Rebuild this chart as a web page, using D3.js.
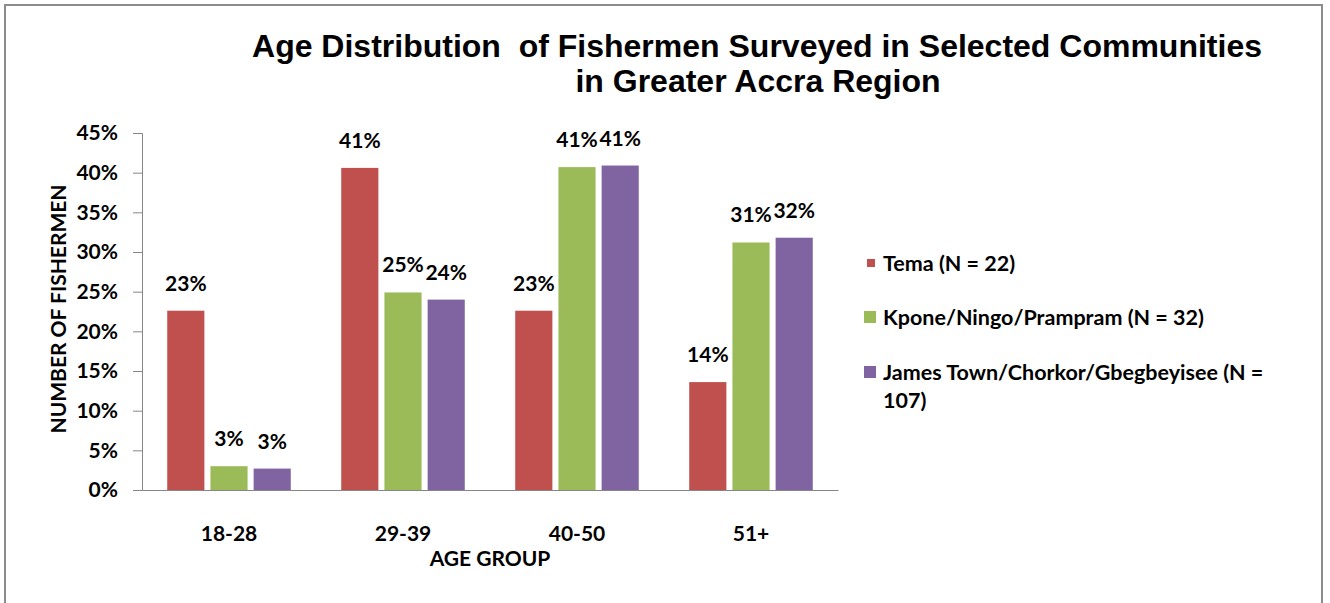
<!DOCTYPE html>
<html>
<head>
<meta charset="utf-8">
<script src="https://cdn.jsdelivr.net/npm/d3@7"></script>
<style>
  body { margin: 0; background: #fff; }
</style>
</head>
<body>
<div id="chart"></div>
<script>
const ageGroups = ["18-28", "29-39", "40-50", "51+"];
const seriesNames = ["Tema (N = 22)", "Kpone/Ningo/Prampram (N = 32)", "James Town/Chorkor/Gbegbeyisee (N = 107)"];
const tema = [22.6, 40.6, 22.6, 13.6];
const kpone = [3.0, 24.9, 40.7, 31.2];
const jamesTown = [2.7, 24.0, 40.9, 31.8];
const seriesColors = ["#C0504D", "#9BBB59", "#8064A2"];
const yTicks = [0, 5, 10, 15, 20, 25, 30, 35, 40, 45];

const width = 1330, height = 603;
const margin = {left: 142, right: 492, top: 133, bottom: 113};
const labelFont = "Lato, 'Open Sans', sans-serif";
const fs = 21;

const allSeries = [tema, kpone, jamesTown];

const svg = d3.select("#chart").append("svg")
    .attr("width", width)
    .attr("height", height);

// outer frame
svg.append("rect")
    .attr("x", 5).attr("y", 5)
    .attr("width", 1317).attr("height", 620)
    .attr("fill", "#fff")
    .attr("stroke", "#8c8c8c")
    .attr("stroke-width", 2);

const x0 = d3.scaleBand()
    .domain(ageGroups)
    .range([margin.left, width - margin.right])
    .paddingInner(0.29)
    .paddingOuter(0.145);

const x1 = d3.scaleBand()
    .domain(d3.range(seriesNames.length))
    .range([0, x0.bandwidth()])
    .paddingInner(0.14);

const y = d3.scaleLinear()
    .domain([0, 45])
    .range([height - margin.bottom, margin.top]);

// title
const title = svg.append("text")
    .attr("text-anchor", "middle")
    .style("font-family", "'Liberation Sans', Arial, sans-serif")
    .style("font-weight", "bold")
    .style("font-size", "32px")
    .style("white-space", "pre")
    .attr("fill", "#000");
title.append("tspan").attr("x", 757).attr("y", 57)
    .text("Age Distribution  of Fishermen Surveyed in Selected Communities");
title.append("tspan").attr("x", 758).attr("y", 92)
    .text("in Greater Accra Region");

// y axis
const yAxis = svg.append("g")
    .attr("transform", `translate(${margin.left},0)`)
    .call(d3.axisLeft(y).tickValues(yTicks).tickFormat(d => d + "%").tickSizeOuter(0).tickSize(9).tickPadding(15));
yAxis.select(".domain").attr("stroke", "#868686");
yAxis.selectAll(".tick line").attr("stroke", "#868686");
yAxis.selectAll("text")
    .style("font-family", labelFont)
    .style("font-weight", "bold")
    .style("font-size", fs + "px")
    .attr("fill", "#000");

// x axis
const xAxis = svg.append("g")
    .attr("transform", `translate(0,${y(0)})`)
    .call(d3.axisBottom(x0).tickSize(0).tickSizeOuter(0).tickPadding(36));
xAxis.select(".domain").attr("stroke", "#868686");
xAxis.selectAll("text")
    .style("font-family", labelFont)
    .style("font-weight", "bold")
    .style("font-size", fs + "px")
    .attr("fill", "#000");

// axis titles
svg.append("text")
    .attr("transform", `translate(66,309) rotate(-90)`)
    .attr("text-anchor", "middle")
    .style("font-family", labelFont)
    .style("font-weight", "bold")
    .style("font-size", fs + "px")
    .text("NUMBER OF FISHERMEN");

svg.append("text")
    .attr("x", (margin.left + width - margin.right) / 2)
    .attr("y", 566)
    .attr("text-anchor", "middle")
    .style("font-family", labelFont)
    .style("font-weight", "bold")
    .style("font-size", fs + "px")
    .text("AGE GROUP");

// bars
const groups = svg.append("g")
    .selectAll("g")
    .data(ageGroups)
    .join("g")
    .attr("transform", d => `translate(${x0(d)},0)`);

const cells = groups.selectAll("g")
    .data((g, gi) => allSeries.map((s, si) => ({si, value: s[gi]})))
    .join("g");

cells.append("rect")
    .attr("x", d => x1(d.si))
    .attr("y", d => y(d.value))
    .attr("width", x1.bandwidth())
    .attr("height", d => y(0) - y(d.value))
    .attr("fill", d => seriesColors[d.si]);

cells.append("text")
    .attr("x", d => x1(d.si) + x1.bandwidth() / 2)
    .attr("y", d => y(d.value) - 20)
    .attr("text-anchor", "middle")
    .style("font-family", labelFont)
    .style("font-weight", "bold")
    .style("font-size", fs + "px")
    .attr("fill", "#000")
    .text(d => Math.round(d.value) + "%");

// legend
const legendRows = [263, 317, 372];
const legend = svg.append("g");
seriesNames.forEach((name, i) => {
    const row = legend.append("g").attr("transform", `translate(864,${legendRows[i]})`);
    const sz = i === 0 ? 8 : 12;
    row.append("rect")
        .attr("x", i === 0 ? 3 : 0)
        .attr("y", -sz / 2)
        .attr("width", sz).attr("height", sz)
        .attr("fill", seriesColors[i]);
    const txt = row.append("text")
        .style("font-family", labelFont)
        .style("font-weight", "bold")
        .style("font-size", "21.5px")
        .attr("fill", "#000");
    // wrap words at ~400px
    const words = name.split(" ");
    let line = [];
    let lineNo = 0;
    let tspan = txt.append("tspan").attr("x", 19).attr("y", 7.5);
    words.forEach(w => {
        line.push(w);
        tspan.text(line.join(" "));
        if (tspan.node().getComputedTextLength() > 400 && line.length > 1) {
            line.pop();
            tspan.text(line.join(" "));
            line = [w];
            lineNo++;
            tspan = txt.append("tspan").attr("x", 19).attr("y", 7.5 + lineNo * 28).text(w);
        }
    });
});
</script>
</body>
</html>
